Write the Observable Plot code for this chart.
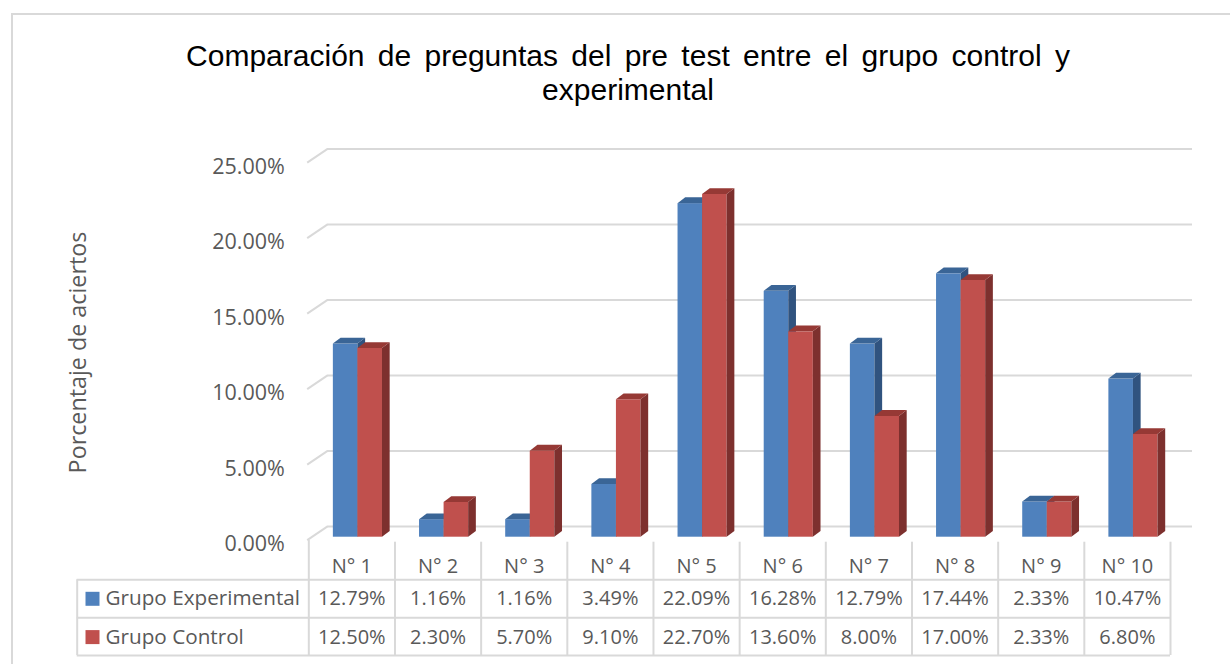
<!DOCTYPE html>
<html>
<head>
<meta charset="utf-8">
<script src="https://cdn.jsdelivr.net/npm/d3@7"></script>
<script src="https://cdn.jsdelivr.net/npm/@observablehq/plot@0.6"></script>
<style>
  html, body { margin: 0; padding: 0; background: #fff; }
  #wrap { position: relative; width: 1230px; height: 664px; overflow: hidden; }
  #frame { position: absolute; left: 11px; top: 13px; width: 1240px; height: 680px; border: 2px solid #D9D9D9; box-sizing: border-box; }
  #title { position: relative; height: 110px; box-sizing: border-box; padding-top: 39px; padding-left: 26px;
           font-family: "Liberation Sans", Arial, sans-serif; font-size: 30px; line-height: 34px; text-align: center; color: #000; word-spacing: 5px; }
  #chart { position: relative; }
</style>
</head>
<body>
<div id="wrap">
  <div id="frame"></div>
  <div id="title">Comparación de preguntas del pre test entre el grupo control y<br>experimental</div>
  <div id="chart"></div>
</div>
<script>
// ---- data ----
const categories = ["N° 1", "N° 2", "N° 3", "N° 4", "N° 5", "N° 6", "N° 7", "N° 8", "N° 9", "N° 10"];
const seriesNames = ["Grupo Experimental", "Grupo Control"];
const experimental = [12.79, 1.16, 1.16, 3.49, 22.09, 16.28, 12.79, 17.44, 2.33, 10.47];
const control = [12.50, 2.30, 5.70, 9.10, 22.70, 13.60, 8.00, 17.00, 2.33, 6.80];
const yTicks = [0, 5, 10, 15, 20, 25];
const yLabel = "Porcentaje de aciertos";

// ---- layout / style ----
const W = 1230, H = 554;
const mL = 308.3, mR = 60, mT = 49.2, mB = 127.3;
const pxX = (W - mL - mR) / categories.length;   // px per x unit
const pxY = (H - mT - mB) / 25;                   // px per percent
const u = px => px / pxX;
const v = px => px / pxY;
const colors = {
  front: ["#4F81BD", "#C0504D"],
  top:   ["#3A6596", "#963935"],
  side:  ["#30537F", "#7D302E"]
};
const barW = 0.285, barOff = 0.285;
const dX = u(7.7), dY = v(5.8);
const grid = "#D9D9D9";
const textColor = "#595959";
const fmt = d => d.toFixed(2) + "%";

const seriesVals = [experimental, control];
const bars = [];
seriesVals.forEach((vals, s) => vals.forEach((val, k) => {
  const x1 = k + barOff + s * barW;
  bars.push({id: s + "-" + k, s, k, val, x1, x2: x1 + barW});
}));
const sides = bars.flatMap(b => [
  {id: b.id, s: b.s, x: b.x2, y1: 0, y2: b.val},
  {id: b.id, s: b.s, x: b.x2 + dX, y1: dY, y2: b.val + dY}
]);
const tops = bars.flatMap(b => [
  {id: b.id, s: b.s, x: b.x1, y1: b.val, y2: b.val},
  {id: b.id, s: b.s, x: b.x1 + dX, y1: b.val, y2: b.val + dY},
  {id: b.id, s: b.s, x: b.x2, y1: b.val, y2: b.val + dY},
  {id: b.id, s: b.s, x: b.x2 + dX, y1: b.val + dY, y2: b.val + dY}
]);

const backOff = v(10.6);
const backX1 = u(18.4), backX2 = categories.length + u(22);
const legendLeft = u(76.7 - mL);
const rowLines = [42.6, 80.6, 118.3];
const headerY = -v(29.3), row1Y = -v(61.6), row2Y = -v(99.9);
const sepX = d3.range(categories.length + 1);

const faceMarks = [];
[0, 1].forEach(s => {
  faceMarks.push(
    Plot.rect(bars.filter(b => b.s === s), {x1: "x1", x2: "x2", y1: 0, y2: "val", fill: colors.front[s]}),
    Plot.areaY(sides.filter(d => d.s === s), {x: "x", y1: "y1", y2: "y2", z: "id", fill: colors.side[s]}),
    Plot.areaY(tops.filter(d => d.s === s), {x: "x", y1: "y1", y2: "y2", z: "id", fill: colors.top[s]})
  );
});

const chart = Plot.plot({
  width: W, height: H,
  marginLeft: mL, marginRight: mR, marginTop: mT, marginBottom: mB,
  x: {type: "linear", domain: [0, categories.length], axis: null},
  y: {type: "linear", domain: [0, 25], axis: null},
  style: {fontFamily: "'Open Sans', Lato, sans-serif", fontSize: "20px", color: textColor, background: "transparent", overflow: "visible"},
  marks: [
    // back wall gridlines
    Plot.ruleY(yTicks, {y: d => d + backOff, x1: backX1, x2: backX2, stroke: grid, strokeWidth: 2}),
    // side wall diagonals
    Plot.link(yTicks, {x1: u(-1.6), y1: d => d - v(3), x2: backX1, y2: d => d + backOff, stroke: grid, strokeWidth: 2}),
    // y axis labels
    Plot.axisY({ticks: yTicks, tickFormat: fmt, tickSize: 0, tickPadding: 24, dy: 7.3, label: null, fontSize: 21.5, fill: textColor}),
    Plot.text([yLabel], {x: u(78 - mL), y: v(536.7 - 352), rotate: -90, fontSize: 23.3, fill: textColor}),
    ...faceMarks,
    // data table lines
    Plot.ruleY(rowLines, {y: d => -v(d), x1: legendLeft, x2: categories.length, stroke: grid, strokeWidth: 2}),
    Plot.ruleX(sepX, {x: d => d, y1: d => d === 0 ? -v(3.3) : -v(5), y2: -v(118.3), stroke: grid, strokeWidth: 2}),
    Plot.ruleX([legendLeft], {x: d => d, y1: -v(42.6), y2: -v(118.3), stroke: grid, strokeWidth: 2}),
    // table header and values
    Plot.text(categories, {x: (d, i) => i + 0.5, y: headerY, text: d => d, fill: textColor}),
    Plot.text(experimental, {x: (d, i) => i + 0.5, y: row1Y, text: fmt, fill: textColor}),
    Plot.text(control, {x: (d, i) => i + 0.5, y: row2Y, text: fmt, fill: textColor}),
    // legend keys
    Plot.dot(seriesNames, {x: u(92 - mL), y: (d, i) => i === 0 ? row1Y : row2Y, symbol: "square", r: 7.9, fill: (d, i) => colors.front[i], stroke: null}),
    Plot.text(seriesNames, {x: u(105 - mL), y: (d, i) => i === 0 ? row1Y : row2Y, text: d => d, textAnchor: "start", fontSize: 20.7, fill: textColor})
  ]
});
document.getElementById("chart").appendChild(chart);
</script>
</body>
</html>
